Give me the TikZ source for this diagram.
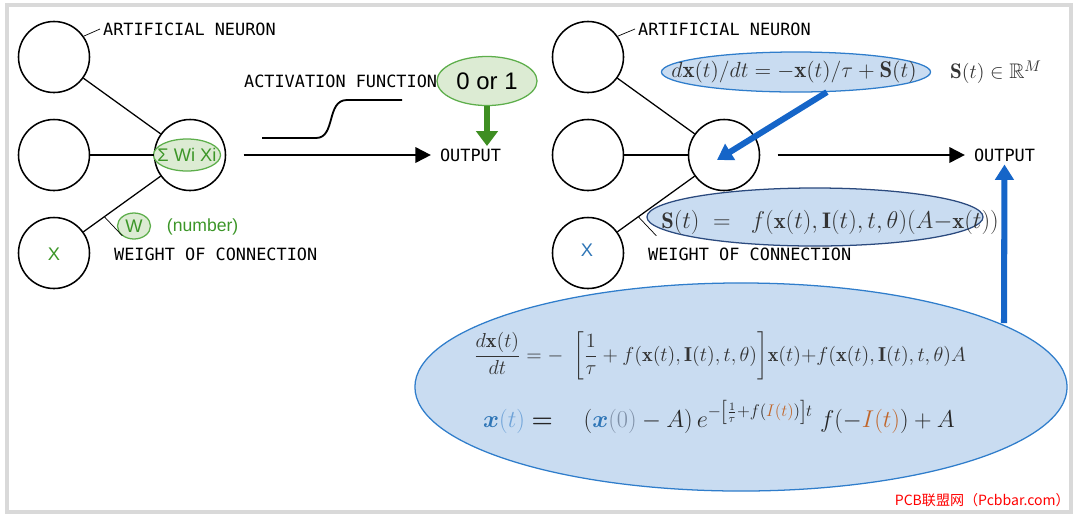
\documentclass[tikz,border=0pt]{standalone}
\usepackage{amsmath,amssymb,graphicx}
\usepackage{fontspec}
\setsansfont{Liberation Sans}
\setmonofont{DejaVu Sans Mono}
\newfontfamily\cjkfont{Noto Sans CJK SC}
\usetikzlibrary{arrows.meta,shapes.geometric,calc}
\definecolor{grtext}{HTML}{3C9628}
\definecolor{gfill}{HTML}{DCEBD3}
\definecolor{gline}{HTML}{5DAE4B}
\definecolor{garrowc}{HTML}{3E8E22}
\definecolor{bfill}{HTML}{C9DCF1}
\definecolor{bline}{HTML}{2F7DCB}
\definecolor{bnavy}{HTML}{2B4A7E}
\definecolor{barrow}{HTML}{1565C8}
\definecolor{xblue}{HTML}{2E75B6}
\definecolor{tblue}{HTML}{6FA3D8}
\definecolor{zgray}{HTML}{7E8FA6}
\definecolor{ibrown}{HTML}{C0662B}
\definecolor{framegray}{HTML}{D9D9D9}
\definecolor{eqgray}{HTML}{333333}
\newcommand\vx{\mathbf{x}}
\newcommand\vI{\mathbf{I}}
\newcommand\vS{\mathbf{S}}
\newcommand\fx{f(\vx(t),\vI(t),t,\theta)}

\begin{document}
\begin{tikzpicture}[x=0.025cm,y=-0.025cm,
  neuron/.style={circle,draw,line width=1.1pt,minimum size=1.775cm,inner sep=0pt},
  tt/.style={font=\ttfamily\fontsize{12}{14}\selectfont,inner sep=2pt},
  gtext/.style={text=grtext,font=\sffamily\fontsize{13}{15}\selectfont},
  gblob/.style={ellipse,draw=gline,fill=gfill,line width=0.9pt,inner sep=0pt},
  bblob/.style={ellipse,draw=bline,fill=bfill,line width=0.9pt,inner sep=0pt},
  link/.style={line width=0.9pt},
  leader/.style={line width=0.5pt},
  outarrow/.style={line width=1.4pt,-{Triangle[width=11pt,length=11pt]},shorten <=12.4pt,shorten >=4.3pt},
  garrow/.style={draw=garrowc,line width=4.3pt,-{Triangle[width=15pt,length=10.5pt]}},
  barrow/.style={draw=barrow,line width=4.3pt,-{Triangle[width=13pt,length=11pt]}}]
\useasboundingbox (0,0) rectangle (1080,516);
\draw[framegray,line width=2.2pt] (7,5) rectangle (1071,512);
%% plain neuron
\foreach\i/\y in{1/57,2/155,3/253} \node[neuron] (in\i) at (54,\y) {};
\node[gtext] (xl) at (54,254) {X};
\node[neuron] (sum) at (190,155) {};
\node[gblob,minimum width=1.675cm,minimum height=0.8cm] (sigma) at (187,155) {};
\foreach\i in{1,2,3} \draw[link] (in\i) -- (sum);
\node[gtext,inner sep=0pt] (sigmatxt) at (sigma) {Σ Wi Xi};
\node[tt,anchor=west] (art1) at (100,29) {ARTIFICIAL NEURON};
\draw[leader] (in1.35) -- (art1.west);
\node[tt,anchor=west] (act) at (241,81) {ACTIVATION FUNCTION};
\draw[line width=1.3pt] (262,138) -- (316,138) .. controls (336,138) and (326,100) .. (347,100) -- (402,100);
\node[gblob,minimum width=2.5cm,minimum height=1.225cm] (zeroone) at (487,81) {};
\node[font=\sffamily\fontsize{17}{19}\selectfont] (zeroonetxt) at (zeroone) {0 or 1};
\coordinate (gtip) at (487,146);
\draw[garrow] (zeroone) -- (gtip);
\node[tt] (out1) at (470.5,155) {OUTPUT};
\draw[outarrow] (sum) -- (out1);
\node[gblob,minimum width=0.825cm,minimum height=0.65cm,gtext] (w) at (134,226) {W};
\node[gtext,anchor=west,font=\sffamily\fontsize{12.5}{15}\selectfont] (num) at (162,227) {(number)};
\draw[leader] ($(in3)!0.37!(sum)$) -- ++(18,19);
\node[tt,anchor=west] (wt1) at (111,254) {WEIGHT OF CONNECTION};
%% dynamic neuron
\foreach\i/\y in{1/57,2/155,3/253} \node[neuron] (rin\i) at (588,\y) {};
\node[text=xblue,font=\sffamily\fontsize{13}{15}\selectfont] (xr) at (587,250) {X};
\node[neuron] (rneu) at (724,155) {};
\node[bblob,draw=bnavy,minimum width=8.4cm,minimum height=1.45cm] (sblob) at (815,217) {};
\foreach\i in{1,2,3} \draw[link] (rin\i) -- (rneu);
\node[tt,anchor=west] (art2) at (635,29) {ARTIFICIAL NEURON};
\draw[leader] (rin1.35) -- (art2.west);
\node[bblob,minimum width=6.725cm,minimum height=1cm] (ode) at (796,72) {};
\node[text=eqgray,font=\fontsize{15}{18}\selectfont] (odetxt) at (794,72)
  {\scalebox{1.08}{$d\vx(t)/dt=-\vx(t)/\tau+\vS(t)$}};
\node[text=eqgray,font=\fontsize{15}{18}\selectfont] (dom) at (996,72) {$\vS(t)\in\mathbb{R}^M$};
\node[text=eqgray,font=\fontsize{16}{19}\selectfont] (seq) at (830,222)
  {$\vS(t)\;=\;\ f(\vx(t),\vI(t),t,\theta)(A{-}\vx(t))$};
\node[tt] (out2) at (1004.5,155) {OUTPUT};
\draw[outarrow] (rneu) -- (out2);
\draw[leader] ($(rin3)!0.37!(rneu)$) -- ++(18,19);
\node[tt,anchor=west] (wt2) at (645,254) {WEIGHT OF CONNECTION};
\coordinate (btip) at (717,160);
\draw[barrow] (ode.-33) -- (btip);
%% closed form
\node[bblob,minimum width=16.3cm,minimum height=5.2cm] (big) at (741,387) {};
\node[text=eqgray,font=\fontsize{14.3}{17}\selectfont] (eqa) at (720,356)
  {$\displaystyle\frac{d\vx(t)}{dt}=-\ \left[\frac{1}{\tau}+\fx\right]\!\vx(t){+}\fx A$};
\node[text=black!85,font=\fontsize{17}{20}\selectfont] (eqb) at (719,417)
  {$\textcolor{xblue}{\boldsymbol{x}}\textcolor{tblue}{(t)}\mathrel{\boldsymbol{=}}\quad(\textcolor{xblue}{\boldsymbol{x}}\textcolor{zgray}{(0)}-A)\,e^{-\left[\frac{1}{\tau}+f(\textcolor{ibrown}{I(t)})\right]t}\ f(-\textcolor{ibrown}{I(t)})+A$};
\coordinate (bstart) at (1004,323);
\draw[barrow] (bstart) -- (out2.south);
\node[anchor=east,inner sep=0pt,text=red,font=\cjkfont\fontsize{10}{12}\selectfont] (wm) at (1070,500) {PCB联盟网（Pcbbar.com）};
\end{tikzpicture}
\end{document}
